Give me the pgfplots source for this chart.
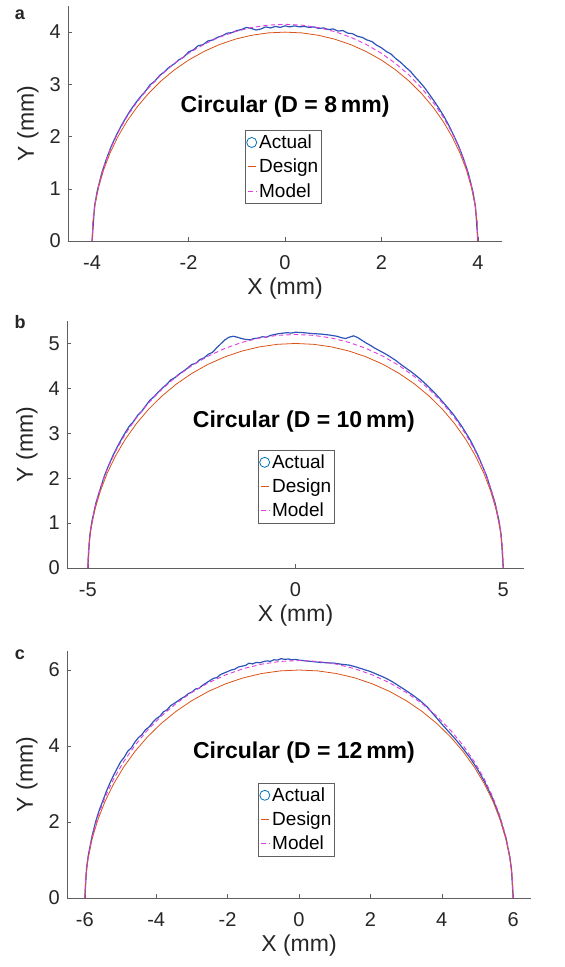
\documentclass[border=0pt]{standalone}
\usepackage{pgfplots}
\pgfplotsset{compat=1.18}
\usepackage{fontspec}
\setmainfont{Liberation Sans}
\definecolor{actualc}{RGB}{45,85,185}
\definecolor{actuall}{RGB}{0,114,189}
\definecolor{designc}{RGB}{217,83,25}
\definecolor{modelc}{RGB}{225,60,225}
\definecolor{axc}{RGB}{95,95,95}
\pgfplotsset{
 panel/.style={
  scale only axis,
  anchor=south west,
  axis x line*=bottom, axis y line*=left,
  axis line style={axc, line width=0.7pt},
  tick style={axc, line width=0.5pt},
  tick align=inside,
  major tick length=4pt,
  ymin=0,
  /pgf/number format/assume math mode=true,
  tick label style={font=\fontsize{20}{24}\selectfont, text=black!85},
  xticklabel style={anchor=center, yshift=-22pt},
  yticklabel style={anchor=east, inner sep=0pt, xshift=-7pt},
  label style={font=\fontsize{23}{27}\selectfont, text=black!85},
  xlabel={X (mm)}, ylabel={Y (mm)},
  xlabel style={at={([yshift=-48pt]axis description cs:0.5,0)}, anchor=center},
  ylabel style={at={([xshift=-40pt]axis description cs:0,0.5)}, anchor=center},
  legend cell align=left,
  legend style={draw=axc, fill=white, line width=0.5pt, anchor=north west,
    font=\fontsize{19}{22}\selectfont, inner xsep=1pt, inner ysep=2.5pt, row sep=5pt,
    /tikz/every even column/.append style={column sep=1pt}},
  legend image code/.code={\draw[#1, line width=0.8pt] (2pt,0pt) -- (10pt,0pt);},
 },
 actual/.style={actualc, line width=1.2pt,
   legend image code/.code={\draw[actuall, line width=0.8pt] (5.5pt,0pt) circle (5pt);}},
 design/.style={designc, line width=0.8pt},
 model/.style={modelc, line width=0.9pt, dash pattern=on 4.5pt off 3pt},
}
\begin{document}
\begin{tikzpicture}
\useasboundingbox (0pt,0pt) rectangle (565pt,-967pt);
% ---------------- panel a ----------------
\begin{axis}[panel, at={(68pt,-241pt)}, width=434pt, height=235pt,
  xmin=-4.5, xmax=4.5, ymax=4.5, xtick={-4,-2,0,2,4}, ytick={0,1,2,3,4},
  legend style={at={(rel axis cs:0.408,0.472)}}]
\addplot[actual] coordinates {(-4,0) (-3.95,0.66) (-3.9,0.93) (-3.8,1.30) (-3.7,1.58) (-3.6,1.82) (-3.5,2.02) (-3.4,2.20) (-3.3,2.36) (-3.2,2.51) (-3.1,2.64) (-3.0,2.76) (-2.9,2.86) (-2.8,2.99) (-2.7,3.06) (-2.6,3.17) (-2.5,3.24) (-2.4,3.33) (-2.3,3.39) (-2.2,3.47) (-2.1,3.52) (-2.0,3.62) (-1.9,3.66) (-1.8,3.74) (-1.7,3.76) (-1.6,3.83) (-1.5,3.85) (-1.4,3.90) (-1.3,3.93) (-1.2,3.98) (-1.1,3.99) (-1.0,4.03) (-0.9,4.05) (-0.8,4.09) (-0.7,4.07) (-0.6,4.04) (-0.5,4.06) (-0.4,4.10) (-0.3,4.08) (-0.2,4.11) (-0.1,4.09) (0,4.12) (0.1,4.10) (0.2,4.12) (0.3,4.10) (0.4,4.11) (0.5,4.09) (0.6,4.10) (0.7,4.07) (0.8,4.08) (0.9,4.05) (1.0,4.06) (1.1,4.02) (1.2,4.03) (1.3,3.98) (1.4,3.97) (1.5,3.92) (1.6,3.90) (1.7,3.85) (1.8,3.82) (1.9,3.75) (2.0,3.70) (2.1,3.63) (2.2,3.58) (2.3,3.49) (2.4,3.42) (2.5,3.33) (2.6,3.25) (2.7,3.14) (2.8,3.04) (2.9,2.93) (3.0,2.80) (3.1,2.67) (3.2,2.53) (3.3,2.38) (3.4,2.21) (3.5,2.02) (3.6,1.82) (3.7,1.58) (3.8,1.30) (3.9,0.93) (3.95,0.66) (4,0)};
\addlegendentry{Actual}
\addplot[design] coordinates {(-4.000,0) (-3.985,0.349) (-3.939,0.695) (-3.864,1.035) (-3.759,1.368) (-3.625,1.690) (-3.464,2.000) (-3.277,2.294) (-3.064,2.571) (-2.828,2.828) (-2.571,3.064) (-2.294,3.277) (-2.000,3.464) (-1.690,3.625) (-1.368,3.759) (-1.035,3.864) (-0.695,3.939) (-0.349,3.985) (0,4) (0.349,3.985) (0.695,3.939) (1.035,3.864) (1.368,3.759) (1.690,3.625) (2.000,3.464) (2.294,3.277) (2.571,3.064) (2.828,2.828) (3.064,2.571) (3.277,2.294) (3.464,2.000) (3.625,1.690) (3.759,1.368) (3.864,1.035) (3.939,0.695) (3.985,0.349) (4.000,0)};
\addlegendentry{Design}
\addplot[model] coordinates {(-4.000,0) (-3.985,0.362) (-3.939,0.721) (-3.864,1.074) (-3.759,1.419) (-3.625,1.754) (-3.464,2.075) (-3.277,2.380) (-3.064,2.668) (-2.828,2.934) (-2.571,3.179) (-2.294,3.399) (-2.000,3.594) (-1.690,3.761) (-1.368,3.900) (-1.035,4.009) (-0.695,4.087) (-0.349,4.134) (0,4.150) (0.349,4.134) (0.695,4.087) (1.035,4.009) (1.368,3.900) (1.690,3.761) (2.000,3.594) (2.294,3.399) (2.571,3.179) (2.828,2.934) (3.064,2.668) (3.277,2.380) (3.464,2.075) (3.625,1.754) (3.759,1.419) (3.864,1.074) (3.939,0.721) (3.985,0.362) (4.000,0)};
\addlegendentry{Model}
\node[font=\bfseries\fontsize{23}{27}\selectfont] at (axis cs:0,2.58) {Circular (D = 8\,mm)};
\end{axis}
% ---------------- panel b ----------------
\begin{axis}[panel, at={(67pt,-568pt)}, width=457pt, height=247pt,
  xmin=-5.5, xmax=5.5, ymax=5.5, xtick={-5,0,5}, ytick={0,1,2,3,4,5},
  legend style={at={(rel axis cs:0.418,0.478)}}]
\addplot[actual] coordinates {(-5,0) (-4.95,0.74) (-4.9,1.04) (-4.8,1.46) (-4.7,1.76) (-4.6,2.05) (-4.5,2.28) (-4.4,2.49) (-4.3,2.68) (-4.2,2.85) (-4.1,3.01) (-4.0,3.16) (-3.9,3.26) (-3.8,3.40) (-3.7,3.49) (-3.6,3.62) (-3.5,3.74) (-3.4,3.82) (-3.3,3.92) (-3.2,4.01) (-3.1,4.09) (-3.0,4.19) (-2.9,4.24) (-2.8,4.32) (-2.7,4.38) (-2.6,4.45) (-2.5,4.53) (-2.4,4.56) (-2.3,4.64) (-2.2,4.68) (-2.1,4.76) (-2.0,4.80) (-1.9,4.90) (-1.8,4.99) (-1.7,5.08) (-1.6,5.14) (-1.5,5.16) (-1.4,5.14) (-1.3,5.11) (-1.2,5.09) (-1.1,5.08) (-1.0,5.11) (-0.9,5.12) (-0.8,5.15) (-0.7,5.14) (-0.6,5.18) (-0.5,5.20) (-0.4,5.22) (-0.3,5.23) (-0.2,5.24) (-0.1,5.23) (0,5.25) (0.2,5.24) (0.4,5.22) (0.6,5.21) (0.8,5.19) (1.0,5.16) (1.1,5.13) (1.2,5.11) (1.3,5.14) (1.4,5.17) (1.5,5.13) (1.6,5.07) (1.7,5.01) (1.8,4.96) (1.9,4.90) (2.0,4.85) (2.2,4.75) (2.4,4.63) (2.6,4.49) (2.8,4.36) (3.0,4.21) (3.2,4.04) (3.4,3.85) (3.6,3.64) (3.8,3.42) (4.0,3.16) (4.2,2.86) (4.4,2.49) (4.6,2.05) (4.8,1.46) (4.9,1.04) (4.95,0.74) (5,0)};
\addlegendentry{Actual}
\addplot[design] coordinates {(-5,0) (-4.981,0.436) (-4.924,0.868) (-4.830,1.294) (-4.698,1.710) (-4.532,2.113) (-4.330,2.500) (-4.096,2.868) (-3.830,3.214) (-3.536,3.536) (-3.214,3.830) (-2.868,4.096) (-2.500,4.330) (-2.113,4.532) (-1.710,4.698) (-1.294,4.830) (-0.868,4.924) (-0.436,4.981) (0,5) (0.436,4.981) (0.868,4.924) (1.294,4.830) (1.710,4.698) (2.113,4.532) (2.500,4.330) (2.868,4.096) (3.214,3.830) (3.536,3.536) (3.830,3.214) (4.096,2.868) (4.330,2.500) (4.532,2.113) (4.698,1.710) (4.830,1.294) (4.924,0.868) (4.981,0.436) (5,0)};
\addlegendentry{Design}
\addplot[model] coordinates {(-5,0) (-4.981,0.453) (-4.924,0.903) (-4.830,1.346) (-4.698,1.779) (-4.532,2.198) (-4.330,2.600) (-4.096,2.983) (-3.830,3.343) (-3.536,3.677) (-3.214,3.983) (-2.868,4.260) (-2.500,4.503) (-2.113,4.713) (-1.710,4.886) (-1.294,5.023) (-0.868,5.121) (-0.436,5.180) (0,5.200) (0.436,5.180) (0.868,5.121) (1.294,5.023) (1.710,4.886) (2.113,4.713) (2.500,4.503) (2.868,4.260) (3.214,3.983) (3.536,3.677) (3.830,3.343) (4.096,2.983) (4.330,2.600) (4.532,2.198) (4.698,1.779) (4.830,1.346) (4.924,0.903) (4.981,0.453) (5,0)};
\addlegendentry{Model}
\node[font=\bfseries\fontsize{23}{27}\selectfont] at (axis cs:0.2,3.27) {Circular (D = 10\,mm)};
\end{axis}
% ---------------- panel c ----------------
\begin{axis}[panel, at={(67pt,-898pt)}, width=464pt, height=247pt,
  xmin=-6.5, xmax=6.5, ymax=6.5, xtick={-6,-4,-2,0,2,4,6}, ytick={0,2,4,6},
  legend style={at={(rel axis cs:0.412,0.466)}}]
\addplot[actual] coordinates {(-6,0) (-5.95,0.81) (-5.9,1.14) (-5.8,1.62) (-5.7,2.00) (-5.6,2.30) (-5.5,2.55) (-5.4,2.80) (-5.3,3.02) (-5.2,3.22) (-5.1,3.40) (-5.0,3.58) (-4.9,3.70) (-4.8,3.86) (-4.7,3.95) (-4.6,4.10) (-4.5,4.22) (-4.4,4.30) (-4.3,4.43) (-4.2,4.50) (-4.1,4.62) (-4.0,4.72) (-3.9,4.78) (-3.8,4.90) (-3.7,4.95) (-3.6,5.06) (-3.5,5.12) (-3.4,5.18) (-3.3,5.25) (-3.2,5.30) (-3.1,5.38) (-3.0,5.42) (-2.9,5.50) (-2.8,5.52) (-2.7,5.60) (-2.6,5.66) (-2.5,5.72) (-2.4,5.78) (-2.3,5.80) (-2.2,5.88) (-2.1,5.92) (-2.0,5.96) (-1.9,6.00) (-1.8,6.02) (-1.7,6.08) (-1.6,6.10) (-1.5,6.12) (-1.4,6.18) (-1.3,6.16) (-1.2,6.20) (-1.1,6.19) (-1.0,6.22) (-0.9,6.24) (-0.8,6.23) (-0.7,6.27) (-0.6,6.26) (-0.5,6.30) (-0.4,6.28) (-0.3,6.29) (-0.2,6.27) (-0.1,6.28) (0,6.26) (0.2,6.24) (0.4,6.22) (0.6,6.20) (0.8,6.19) (1.0,6.18) (1.2,6.15) (1.4,6.13) (1.6,6.08) (1.8,6.02) (2.0,5.96) (2.2,5.88) (2.4,5.80) (2.6,5.70) (2.8,5.58) (3.0,5.46) (3.2,5.33) (3.4,5.19) (3.6,5.02) (3.8,4.80) (4.0,4.58) (4.2,4.37) (4.4,4.16) (4.6,3.93) (4.8,3.68) (5.0,3.39) (5.2,3.06) (5.4,2.67) (5.6,2.20) (5.8,1.57) (5.9,1.11) (5.95,0.79) (6,0)};
\addlegendentry{Actual}
\addplot[design] coordinates {(-6,0) (-5.977,0.523) (-5.909,1.042) (-5.796,1.553) (-5.638,2.052) (-5.438,2.536) (-5.196,3.000) (-4.915,3.441) (-4.596,3.857) (-4.243,4.243) (-3.857,4.596) (-3.441,4.915) (-3.000,5.196) (-2.536,5.438) (-2.052,5.638) (-1.553,5.796) (-1.042,5.909) (-0.523,5.977) (0,6) (0.523,5.977) (1.042,5.909) (1.553,5.796) (2.052,5.638) (2.536,5.438) (3.000,5.196) (3.441,4.915) (3.857,4.596) (4.243,4.243) (4.596,3.857) (4.915,3.441) (5.196,3.000) (5.438,2.536) (5.638,2.052) (5.796,1.553) (5.909,1.042) (5.977,0.523) (6,0)};
\addlegendentry{Design}
\addplot[model] coordinates {(-6,0) (-5.977,0.545) (-5.909,1.085) (-5.796,1.618) (-5.638,2.138) (-5.438,2.641) (-5.196,3.125) (-4.915,3.585) (-4.596,4.017) (-4.243,4.419) (-3.857,4.788) (-3.441,5.120) (-3.000,5.413) (-2.536,5.664) (-2.052,5.873) (-1.553,6.037) (-1.042,6.155) (-0.523,6.226) (0,6.250) (0.523,6.226) (1.042,6.155) (1.553,6.037) (2.052,5.873) (2.536,5.664) (3.000,5.413) (3.441,5.120) (3.857,4.788) (4.243,4.419) (4.596,4.017) (4.915,3.585) (5.196,3.125) (5.438,2.641) (5.638,2.138) (5.796,1.618) (5.909,1.085) (5.977,0.545) (6,0)};
\addlegendentry{Model}
\node[font=\bfseries\fontsize{23}{27}\selectfont] at (axis cs:0.14,3.84) {Circular (D = 12\,mm)};
\end{axis}
\node[font=\bfseries\fontsize{18}{20}\selectfont, text=black!85] at (20pt,-15pt) {a};
\node[font=\bfseries\fontsize{18}{20}\selectfont, text=black!85] at (20pt,-322pt) {b};
\node[font=\bfseries\fontsize{18}{20}\selectfont, text=black!85] at (20pt,-655pt) {c};
\end{tikzpicture}
\end{document}
